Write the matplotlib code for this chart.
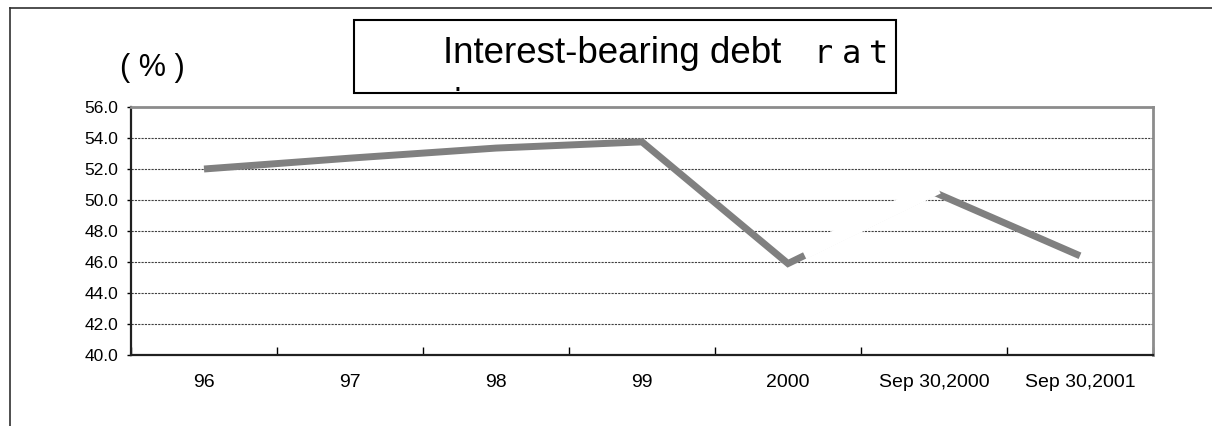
import matplotlib.pyplot as plt
import numpy as np
from matplotlib.patches import Rectangle
from matplotlib.lines import Line2D

periods = ["96", "97", "98", "99", "2000", "Sep 30,2000", "Sep 30,2001"]
ratio = [52.0, 52.7, 53.35, 53.75, 45.9, 50.5, 46.4]
y_ticks = [40, 42, 44, 46, 48, 50, 52, 54, 56]

W, H = 1212, 426
plt.rcParams['font.family'] = ['Liberation Sans', 'DejaVu Sans']

fig = plt.figure(figsize=(W / 100, H / 100), dpi=100)


def fx(x):
    return x / W


def fy(y):
    return 1 - y / H


ax = fig.add_axes([fx(131), fy(355), (1153 - 131) / W, (355 - 107) / H])

x = np.arange(len(periods))
ax.plot(x, ratio, color="#808080", lw=5, solid_joinstyle="miter",
        solid_capstyle="butt", zorder=3)

# white streak that hides most of the 2000 -> Sep 30,2000 segment
i = periods.index("2000")
t = np.array([0.15, 1.07])
ax.plot(x[i] + t - 0.045, ratio[i] + t * (ratio[i + 1] - ratio[i]),
        color="white", lw=10, solid_capstyle="butt", zorder=4)

ax.set_xlim(-0.5, len(periods) - 0.5)
ax.set_ylim(40, 56)
ax.set_yticks(y_ticks)
ax.set_yticklabels([f"{v:.1f}" for v in y_ticks], fontsize=12.5)
ax.set_xticks(x)
ax.set_xticklabels(periods, fontsize=14)
ax.set_xticks(np.arange(len(periods) + 1) - 0.5, minor=True)
ax.tick_params(axis="x", which="major", length=0, pad=14)
ax.tick_params(axis="x", which="minor", direction="in", length=6, width=1)
ax.tick_params(axis="y", direction="out", length=3, width=1, pad=6)

for v in y_ticks[1:-1]:
    ax.axhline(v, color="#404040", lw=0.8, ls=(0, (2, 1)), zorder=1)

for s in ["left", "bottom"]:
    ax.spines[s].set_color("#202020")
    ax.spines[s].set_linewidth(1.6)
for s in ["top", "right"]:
    ax.spines[s].set_color("#8c8c8c")
    ax.spines[s].set_linewidth(2)

# outer frame (cropped chart border)
fig.add_artist(Line2D([fx(10), 1.0], [fy(8), fy(8)], color="#303030", lw=1.2))
fig.add_artist(Line2D([fx(10), fx(10)], [fy(8), 0.0], color="#303030", lw=1.2))

fig.text(fx(152), fy(68), "( % )", fontsize=22, ha="center", va="center")

box = Rectangle((fx(354), fy(93)), fx(896) - fx(354), fy(20) - fy(93),
                transform=fig.transFigure, fill=False, ec="black", lw=1.5)
fig.add_artist(box)
fig.text(fx(443), fy(63), "Interest-bearing debt", fontsize=26.5,
         ha="left", va="baseline")
for ch, xp in zip("rat", [823, 851, 879]):
    fig.text(fx(xp), fy(63), ch, fontsize=23, family="DejaVu Sans Mono",
             ha="center", va="baseline")
for ch, xp in zip("io", [457, 494]):
    t2 = fig.text(fx(xp), fy(111), ch, fontsize=23, family="DejaVu Sans Mono",
                  ha="center", va="baseline")
    t2.set_clip_path(box)

fig.savefig("out.png", dpi=100)
